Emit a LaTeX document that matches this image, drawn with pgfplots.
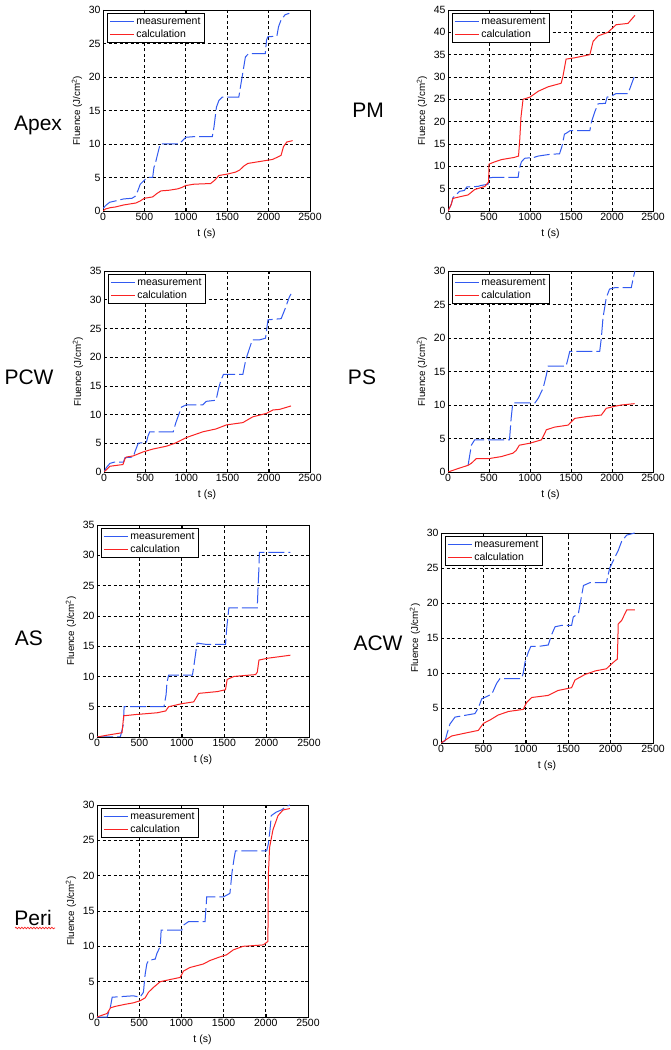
\documentclass[border=0pt]{standalone}
\usepackage{fontspec}
\setmainfont{Liberation Sans}
\usepackage{pgfplots}
\pgfplotsset{compat=1.18}
\usetikzlibrary{decorations.pathmorphing}
\definecolor{mblue}{RGB}{50,90,240}
\definecolor{mred}{RGB}{250,35,35}
\pgfplotsset{
  panel/.style={
    scale only axis, anchor=south west,
    xmin=0, xmax=2500, ymin=0,
    xtick={0,500,1000,1500,2000,2500},
    xticklabels={0,500,1000,1500,2000,2500},
    scaled ticks=false,
    /pgf/number format/assume math mode=true,
    /pgf/number format/1000 sep={},
    grid=major,
    grid style={black, line width=0.7pt, dash pattern=on 3pt off 2.5pt},
    tick align=inside, major tick length=3pt,
    tick style={black, line width=0.6pt},
    axis line style={black, line width=0.8pt},
    ticklabel style={font=\fontsize{10.5}{12}\selectfont},
    xticklabel style={yshift=1pt},
    yticklabel style={xshift=1pt},
    xlabel={t (s)},
    ylabel={Fluence (J/cm\textsuperscript{2})},
    every axis x label/.style={font=\fontsize{10.5}{12}\selectfont, at={(axis description cs:0.5,0)}, anchor=center, yshift=-23pt},
    every axis y label/.style={font=\fontsize{9.8}{11}\selectfont, at={(axis description cs:0,0.5)}, xshift=-26pt, rotate=90, anchor=center},
    legend style={at={(0,1)}, anchor=north west, xshift=4pt, yshift=-3pt,
      draw=black, line width=0.6pt, font=\fontsize{10.5}{12}\selectfont,
      inner sep=2pt, row sep=0pt, cells={anchor=west}},
    legend image code/.code={\draw[#1, solid] (0pt,0pt) -- (24pt,0pt);},
  },
  meas/.style={mblue, line width=1pt, dash pattern=on 16pt off 4pt},
  calc/.style={mred, line width=1pt},
}
\begin{document}
\begin{tikzpicture}
\path[use as bounding box, fill=white] (0pt,0pt) rectangle (670pt,1050pt);

% panel labels
\node[font=\fontsize{21}{24}\selectfont] at (38pt,925pt) {Apex};
\node[font=\fontsize{21}{24}\selectfont] at (368pt,940pt) {PM};
\node[font=\fontsize{21}{24}\selectfont] at (29pt,673pt) {PCW};
\node[font=\fontsize{21}{24}\selectfont] at (362pt,673pt) {PS};
\node[font=\fontsize{21}{24}\selectfont] at (29pt,412pt) {AS};
\node[font=\fontsize{21}{24}\selectfont] at (378pt,407pt) {ACW};
\node[font=\fontsize{21}{24}\selectfont] at (33pt,132pt) {Peri};
\draw[mred, line width=0.7pt, decorate, decoration={snake, segment length=3pt, amplitude=0.8pt}] (15pt,122pt) -- (55pt,122pt);

% Apex
\begin{axis}[panel, at={(103pt,839pt)}, width=207pt, height=201pt, ymax=30, ytick={0,5,...,30}]
\addplot[meas] coordinates {(0,0.4)(40,0.9)(80,1.3)(150,1.5)(250,1.8)(350,1.9)(390,2.2)(420,3.0)(450,4.0)(500,4.6)(530,5.0)(600,5.0)(615,6.5)(630,7.0)(660,8.5)(690,10.0)(920,10.0)(960,10.5)(1000,11.0)(1100,11.1)(1320,11.1)(1340,12.5)(1370,15.5)(1400,16.5)(1440,17.0)(1640,17.0)(1660,18.5)(1700,21.5)(1720,23.0)(1760,23.5)(1960,23.5)(1975,25.5)(1990,26.0)(2100,26.1)(2120,27.5)(2150,28.5)(2200,29.3)(2250,29.5)};
\addlegendentry{measurement}
\addplot[calc] coordinates {(0,0)(30,0.3)(90,0.5)(150,0.6)(250,0.9)(400,1.2)(450,1.5)(500,1.9)(600,2.1)(650,2.6)(700,3.0)(800,3.1)(900,3.3)(950,3.5)(1000,3.8)(1100,4.0)(1300,4.1)(1350,4.6)(1400,5.3)(1500,5.5)(1600,5.8)(1650,6.1)(1700,6.7)(1750,7.1)(1850,7.3)(1950,7.5)(2050,7.7)(2100,8.0)(2150,8.3)(2180,9.6)(2220,10.3)(2290,10.5)};
\addlegendentry{calculation}
\end{axis}

% PM
\begin{axis}[panel, at={(448pt,839pt)}, width=205pt, height=201pt, ymax=45, ytick={0,5,...,45}]
\addplot[meas] coordinates {(0,0)(40,1.5)(60,3.0)(80,3.3)(140,4.4)(200,4.6)(230,5.4)(365,5.5)(400,5.7)(490,6.0)(500,7.4)(540,7.5)(855,7.5)(870,9.5)(895,11.0)(935,11.8)(1050,12.0)(1100,12.3)(1250,12.7)(1360,12.8)(1390,14.5)(1420,17.2)(1450,17.5)(1490,18.0)(1730,18.0)(1750,20.0)(1790,22.2)(1830,24.0)(1920,24.1)(1940,25.5)(1990,25.7)(2050,26.3)(2195,26.3)(2220,27.5)(2240,28.5)(2270,30.0)};
\addlegendentry{measurement}
\addplot[calc] coordinates {(0,0)(40,1.5)(60,2.8)(100,3.0)(245,3.6)(325,4.8)(450,5.5)(495,6.5)(500,10.5)(570,11.0)(650,11.5)(810,12.0)(860,12.3)(875,16.0)(890,21.0)(915,25.0)(1000,25.5)(1100,26.8)(1220,27.8)(1380,28.6)(1400,30.0)(1440,34.0)(1545,34.3)(1730,35.0)(1770,38.0)(1830,39.2)(1950,40.0)(2050,41.7)(2195,42.0)(2280,43.8)};
\addlegendentry{calculation}
\end{axis}

% PCW
\begin{axis}[panel, at={(104pt,578pt)}, width=206pt, height=201pt, ymax=35, ytick={0,5,...,35}]
\addplot[meas] coordinates {(0,0)(30,0.8)(72,1.5)(120,1.7)(235,1.7)(255,2.5)(355,2.6)(375,3.5)(415,5.0)(515,5.2)(535,6.3)(555,7.0)(840,7.0)(870,8.5)(920,10.5)(940,11.3)(1000,11.7)(1200,11.7)(1240,12.3)(1360,12.5)(1390,14.5)(1420,16.0)(1450,17.0)(1685,17.0)(1720,19.5)(1765,21.5)(1800,23.0)(1885,23.0)(1960,23.3)(1990,26.5)(2150,26.7)(2200,28.5)(2250,30.5)(2270,31.0)};
\addlegendentry{measurement}
\addplot[calc] coordinates {(0,0)(72,1.0)(230,1.3)(255,2.3)(270,2.6)(355,2.8)(475,3.5)(595,4.0)(760,4.5)(860,5.0)(1000,6.0)(1200,7.0)(1360,7.5)(1485,8.2)(1685,8.6)(1805,9.6)(1970,10.2)(2050,10.8)(2130,10.9)(2270,11.5)};
\addlegendentry{calculation}
\end{axis}

% PS
\begin{axis}[panel, at={(448pt,578pt)}, width=205pt, height=201pt, ymax=30, ytick={0,5,...,30}]
\addplot[meas] coordinates {(245,1.0)(265,2.5)(285,4.0)(325,4.8)(750,4.8)(770,8.0)(790,10.3)(1060,10.3)(1100,11.0)(1160,12.5)(1200,14.5)(1220,15.8)(1440,15.8)(1465,17.0)(1485,18.0)(1850,18.0)(1870,20.0)(1890,23.0)(1910,24.5)(1930,26.0)(1970,27.3)(2030,27.5)(2235,27.5)(2260,29.0)(2280,30.0)};
\addlegendentry{measurement}
\addplot[calc] coordinates {(0,0)(120,0.5)(245,1.0)(285,1.3)(345,2.0)(500,2.0)(650,2.3)(790,2.8)(830,3.2)(870,4.0)(1000,4.3)(1140,4.8)(1200,6.3)(1300,6.7)(1465,7.0)(1545,8.0)(1710,8.3)(1870,8.5)(1930,9.5)(2030,9.8)(2115,10.0)(2275,10.2)};
\addlegendentry{calculation}
\end{axis}

% AS
\begin{axis}[panel, at={(97pt,313pt)}, width=212pt, height=212pt, ymax=35, ytick={0,5,...,35}]
\addplot[meas] coordinates {(0,0)(275,0)(310,2.0)(320,5.0)(435,5.0)(710,5.0)(790,5.0)(815,7.0)(825,9.0)(845,10.2)(1125,10.2)(1140,11.5)(1180,15.5)(1280,15.3)(1515,15.3)(1530,18.0)(1555,21.3)(1890,21.3)(1900,25.0)(1910,28.0)(1915,30.5)(2280,30.5)};
\addlegendentry{measurement}
\addplot[calc] coordinates {(0,0)(120,0.3)(295,0.7)(315,3.5)(450,3.7)(710,4.0)(810,4.3)(845,5.0)(1000,5.5)(1140,5.8)(1200,7.2)(1420,7.5)(1515,7.8)(1535,9.5)(1615,10.0)(1870,10.3)(1890,10.7)(1910,12.7)(2010,13.0)(2280,13.5)};
\addlegendentry{calculation}
\end{axis}

% ACW
\begin{axis}[panel, at={(441pt,307pt)}, width=212pt, height=210pt, ymax=30, ytick={0,5,...,30}]
\addplot[meas] coordinates {(0,0)(47,0.3)(75,1.5)(105,2.7)(165,3.7)(400,4.2)(440,5.0)(480,6.3)(600,7.0)(655,8.5)(695,9.2)(950,9.2)(970,10.0)(990,11.5)(1030,13.0)(1060,13.8)(1150,13.8)(1265,14.0)(1305,15.5)(1345,16.6)(1420,16.8)(1540,16.8)(1560,18.0)(1620,18.5)(1650,20.5)(1680,22.5)(1755,22.9)(1950,22.9)(1990,25.0)(2050,26.5)(2090,27.5)(2130,28.8)(2190,29.7)(2285,30.0)};
\addlegendentry{measurement}
\addplot[calc] coordinates {(0,0)(125,1.0)(280,1.4)(440,1.8)(500,2.8)(580,3.3)(675,4.0)(795,4.5)(970,4.8)(1010,5.8)(1070,6.5)(1265,6.8)(1380,7.5)(1540,7.9)(1580,9.0)(1700,9.8)(1820,10.3)(1950,10.6)(2030,11.5)(2080,12.0)(2090,17.0)(2130,17.5)(2190,19.0)(2285,19.0)};
\addlegendentry{calculation}
\end{axis}

% Peri
\begin{axis}[panel, at={(97pt,33pt)}, width=211pt, height=212pt, ymax=30, ytick={0,5,...,30}]
\addplot[meas] coordinates {(0,0)(120,0)(160,1.5)(180,2.8)(430,3.0)(510,2.8)(550,3.5)(570,6.0)(590,7.5)(610,8.0)(690,8.2)(710,9.0)(750,10.0)(760,12.3)(1005,12.3)(1025,13.0)(1085,13.5)(1280,13.5)(1300,17.0)(1500,17.0)(1575,17.5)(1600,20.5)(1625,22.5)(1640,23.5)(1870,23.5)(2010,23.5)(2030,24.5)(2050,26.5)(2065,28.5)(2125,29.0)(2185,29.3)(2245,29.8)(2285,30.0)};
\addlegendentry{measurement}
\addplot[calc] coordinates {(0,0)(120,0.5)(160,1.3)(215,1.5)(335,1.8)(430,2.0)(510,2.3)(570,2.7)(610,3.5)(670,4.2)(750,5.0)(865,5.3)(985,5.6)(1025,6.5)(1100,7.0)(1260,7.5)(1340,8.0)(1455,8.5)(1535,8.8)(1615,9.5)(1730,10.0)(1970,10.2)(2025,10.7)(2030,20.0)(2045,24.0)(2085,26.5)(2145,28.5)(2205,29.3)(2285,29.5)};
\addlegendentry{calculation}
\end{axis}
\end{tikzpicture}
\end{document}
